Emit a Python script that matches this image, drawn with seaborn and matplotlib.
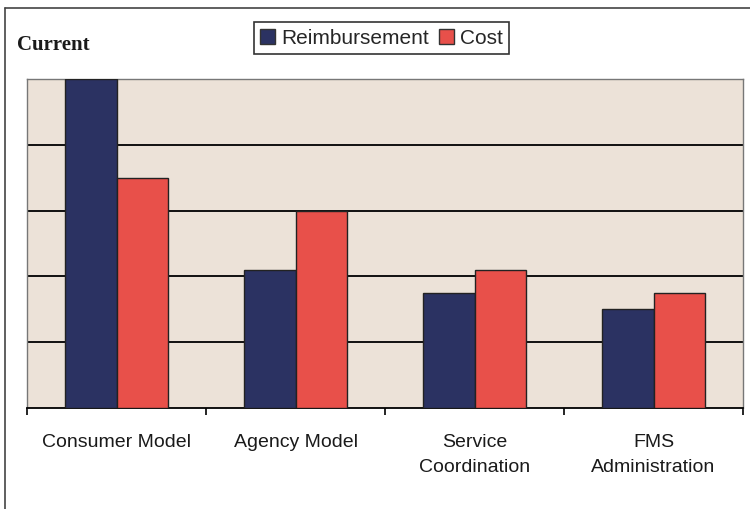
import matplotlib
matplotlib.use("Agg")
import matplotlib.pyplot as plt
import pandas as pd
import seaborn as sns
from matplotlib.lines import Line2D
from matplotlib.patches import Patch

# Data (gridline units, no y labels shown)
categories = ["Consumer Model", "Agency Model", "Service\nCoordination", "FMS\nAdministration"]
reimbursement = [5.0, 2.1, 1.75, 1.5]
cost = [3.5, 3.0, 2.1, 1.75]
series = ["Reimbursement", "Cost"]
colors = ["#2b3262", "#e8504a"]

df = pd.DataFrame({
    "category": categories * 2,
    "series": [series[0]] * 4 + [series[1]] * 4,
    "value": reimbursement + cost,
})

sns.set_style("white")
plt.rcParams["font.family"] = ["Liberation Sans", "DejaVu Sans"]

fig = plt.figure(figsize=(7.5, 5.09), dpi=100)
ax = fig.add_axes([0.036, 0.1984, 0.9547, 0.6464])
ax.set_facecolor("#ece2d8")

sns.barplot(data=df, x="category", y="value", hue="series", order=categories,
            hue_order=series, palette=colors, width=0.58, gap=0,
            edgecolor="#222222", linewidth=1.0, saturation=1, ax=ax, legend=False,
            zorder=3)

ax.set_xlim(-0.5, 3.5)
ax.set_ylim(0, 5)
ax.set_yticks([1, 2, 3, 4])
ax.yaxis.grid(True, color="black", linewidth=1.3, zorder=1)
ax.set_axisbelow(True)
ax.tick_params(axis="y", left=False, labelleft=False)

# Excel style: ticks between groups, labels at group centres
ax.set_xticks([-0.5, 0.5, 1.5, 2.5, 3.5])
ax.set_xticklabels([])
ax.tick_params(axis="x", which="major", bottom=True, direction="out", length=5,
               width=1.2, color="black")
ax.set_xticks([0, 1, 2, 3], minor=True)
ax.set_xticklabels(categories, minor=True, fontsize=14, color="#1a1a1a", linespacing=1.6)
ax.tick_params(axis="x", which="minor", bottom=True, length=0, pad=19)
ax.set_xlabel("")
ax.set_ylabel("")

for s in ["left", "right", "top"]:
    ax.spines[s].set_color("#777777")
    ax.spines[s].set_linewidth(1.0)
ax.spines["bottom"].set_color("black")
ax.spines["bottom"].set_linewidth(1.3)

handles = [Patch(facecolor=c, edgecolor="#333333", label=s) for c, s in zip(colors, series)]
leg = fig.legend(handles=handles, loc="center", bbox_to_anchor=(0.509, 0.925), ncol=2,
                 frameon=True, fancybox=False, edgecolor="black", fontsize=15,
                 handlelength=0.7, handleheight=0.7, handletextpad=0.3, columnspacing=0.5,
                 borderpad=0.3)
leg.get_frame().set_linewidth(1.2)

fig.text(0.023, 0.912, "Current", fontsize=15, fontweight="bold",
         family=["Liberation Serif", "DejaVu Serif"], va="center", color="#1a1a1a")

# outer frame of the original figure box
fig.add_artist(Line2D([0.007, 0.007], [0.0, 0.984], color="#444444", linewidth=1.2))
fig.add_artist(Line2D([0.007, 1.0], [0.984, 0.984], color="#444444", linewidth=1.2))

fig.savefig("out.png", dpi=100)
